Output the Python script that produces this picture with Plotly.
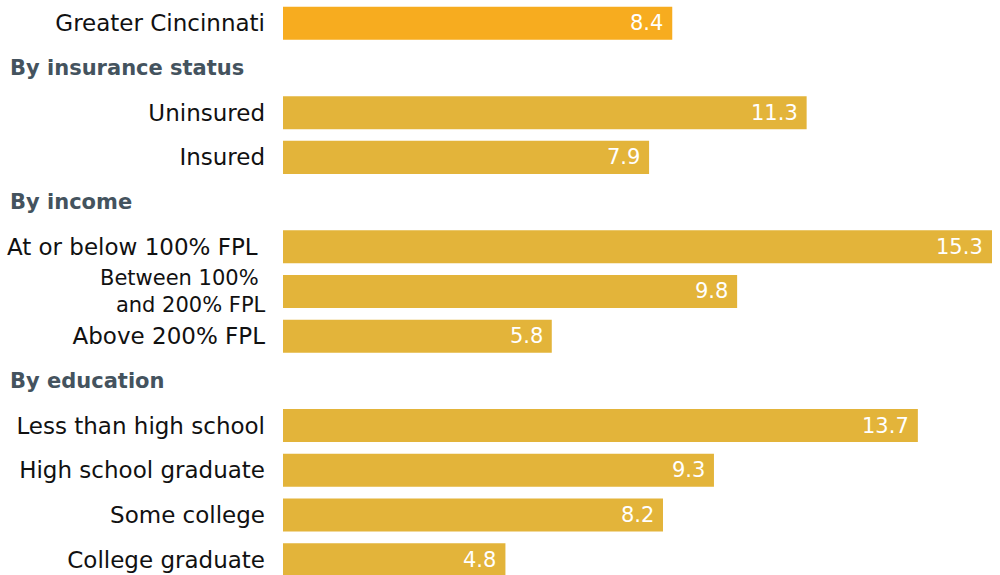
import plotly.graph_objects as go

# Rows (top to bottom); headings are rows without bars
categories = ["Greater Cincinnati", "By insurance status", "Uninsured", "Insured",
              "By income", "At or below 100% FPL", "Between 100% and 200% FPL", "Above 200% FPL",
              "By education", "Less than high school", "High school graduate", "Some college",
              "College graduate"]
tick_labels = ["Greater Cincinnati", "", "Uninsured", "Insured",
               "", "At or below 100% FPL\u00a0", "", "Above 200% FPL",
               "", "Less than high school", "High school graduate", "Some college",
               "College graduate"]
two_line_row = "Between 100% and 200% FPL"
two_line_text = "Between 100%\u00a0<br>and 200% FPL"
values = [8.4, None, 11.3, 7.9, None, 15.3, 9.8, 5.8, None, 13.7, 9.3, 8.2, 4.8]
headings = ["By insurance status", "By income", "By education"]

total_color = "#F7AC1F"
group_color = "#E3B43A"
colors = [total_color if c == "Greater Cincinnati" else group_color for c in categories]

label_font = dict(family="DejaVu Sans", size=23, color="#111111")

fig = go.Figure()
fig.add_trace(go.Bar(
    y=categories, x=values, orientation="h",
    marker=dict(color=colors, line=dict(width=0)),
    hoverinfo="skip",
))

for c, v in zip(categories, values):
    if v is not None:
        fig.add_annotation(x=v, y=c, xref="x", yref="y", text=f"{v:.1f}",
                           showarrow=False, xanchor="right", xshift=-7, yshift=0,
                           font=dict(family="DejaVu Sans ExtraLight, DejaVu Sans", size=21, color="white"))

for h in headings:
    fig.add_annotation(x=0, y=h, xref="paper", yref="y", text=f"<b>{h}</b>",
                       showarrow=False, xanchor="left", xshift=-275,
                       font=dict(family="DejaVu Sans", size=21, color="#44535E"))

fig.add_annotation(x=0, y=two_line_row, xref="paper", yref="y", text=two_line_text,
                   showarrow=False, xanchor="right", align="right", xshift=-15,
                   font=dict(family="DejaVu Sans", size=21, color="#111111"))

fig.update_layout(
    width=1000, height=575,
    margin=dict(l=283, r=8, t=0, b=0),
    paper_bgcolor="white", plot_bgcolor="white",
    bargap=0.26, showlegend=False,
    xaxis=dict(range=[0, 15.3], visible=False, fixedrange=True),
    yaxis=dict(type="category", categoryorder="array", categoryarray=categories,
               tickvals=categories, ticktext=tick_labels,
               range=[12.343, -0.521], showgrid=False, zeroline=False, showline=False,
               ticks="", ticklabelstandoff=17,
               tickfont=label_font),
)

fig.write_html("out.html")
